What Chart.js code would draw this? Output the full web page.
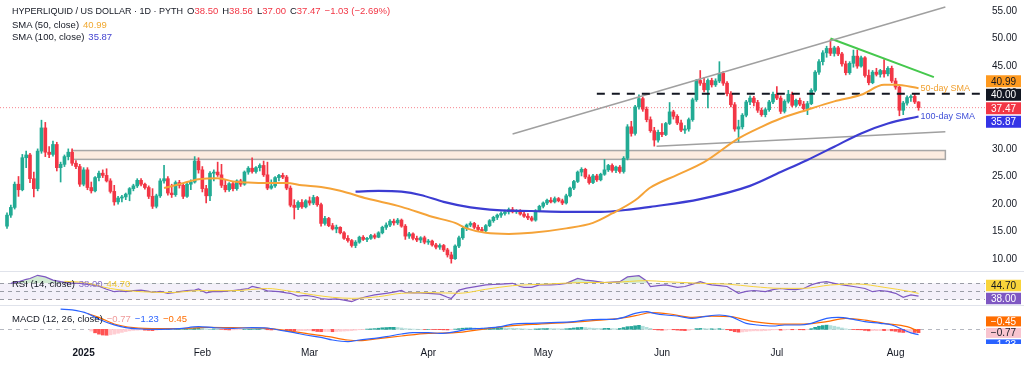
<!DOCTYPE html>
<html>
<head>
<meta charset="utf-8">
<title>HYPERLIQUID / US DOLLAR · 1D</title>
<script src="https://cdn.jsdelivr.net/npm/chart.js@4.4.1/dist/chart.umd.min.js"></script>
<style>
  html, body { margin: 0; padding: 0; background: #fff; }
  body { position: relative; width: 1024px; height: 366px; overflow: hidden;
         font-family: "Liberation Sans", Arial, sans-serif; color: #131722; }
  canvas { position: absolute; left: 0; }
  #main { top: 0; }
  #rsi { top: 272px; }
  #macd { top: 306px; }
  .sep { position: absolute; left: 0; width: 1024px; height: 1px; background: #e0e3eb; }
  .legend { position: absolute; left: 12px; font-size: 9.5px; line-height: 12px; white-space: nowrap; }
  .legend .v { margin-left: 4px; }
  .legend .ttl { font-size: 9px; margin-right: 4px; }
  .legend .g { margin-right: 4px; }
  .dn { color: #f23645; }
</style>
</head>
<body>
<canvas id="main" width="1024" height="271"></canvas>
<div class="sep" style="top:271px"></div>
<canvas id="rsi" width="1024" height="33"></canvas>
<div class="sep" style="top:305px"></div>
<canvas id="macd" width="1024" height="60"></canvas>

<div class="legend" id="lgTitle" style="top:5px"></div>
<div class="legend" id="lgSma50" style="top:19px"></div>
<div class="legend" id="lgSma100" style="top:31px"></div>
<div class="legend" id="lgRsi" style="top:278px"></div>
<div class="legend" id="lgMacd" style="top:313px"></div>

<script>
// ===== Data (daily candles from 2024-12-12) =====
const firstDay = '2024-12-12';

const opens = [
  16.0,18.0,19.4,23.6,22.6,28.4,28.9,24.6,22.8,29.6,
  33.8,29.4,29.0,30.8,26.6,27.2,28.6,29.4,27.4,26.8,
  23.6,26.2,23.0,22.4,24.8,25.6,25.2,24.2,22.3,20.4,
  21.1,21.3,21.8,22.8,23.3,24.3,23.6,23.0,21.4,19.6,
  21.5,24.2,24.6,22.0,21.7,23.9,23.4,21.4,23.6,24.0,
  27.8,26.2,22.8,21.5,25.6,25.8,25.3,23.4,22.6,23.7,
  22.8,24.2,23.6,25.8,26.5,25.9,26.6,27.0,25.3,22.9,
  23.3,24.8,25.2,24.9,22.9,19.8,19.4,20.3,19.5,20.6,
  20.2,21.2,19.9,16.5,17.4,16.1,15.5,15.8,14.8,13.8,
  13.4,12.5,13.1,14.0,13.6,13.8,14.3,14.0,14.8,15.8,
  16.2,16.9,16.6,17.1,16.0,14.2,14.6,13.8,13.5,13.9,
  13.1,13.3,12.6,12.2,12.5,11.7,10.8,10.1,12.4,13.9,
  15.6,16.2,16.5,15.8,15.4,15.2,16.1,17.0,17.6,18.0,
  18.3,18.6,19.0,18.6,18.8,18.2,17.8,17.5,17.1,18.8,
  19.6,20.2,20.7,20.4,21.0,20.6,20.2,21.5,22.9,24.1,
  25.8,26.3,24.9,23.9,25.1,24.4,25.4,26.2,27.0,26.1,
  26.7,25.9,28.3,34.0,32.8,37.6,39.1,37.2,35.3,33.3,
  31.6,33.0,32.6,34.6,36.7,35.9,34.7,33.4,33.6,35.3,
  38.9,42.4,41.9,40.7,42.4,41.6,42.3,43.7,41.9,40.0,
  38.0,33.6,34.0,36.1,38.5,39.2,38.4,37.0,36.2,37.1,
  38.5,39.9,39.2,36.8,38.6,39.9,37.9,38.8,38.1,37.3,
  38.2,40.6,43.9,45.8,47.4,48.2,47.3,48.3,47.2,45.4,
  43.8,45.5,46.8,45.0,46.5,43.3,42.0,43.9,43.5,44.2,
  43.6,44.6,42.3,41.2,37.0,38.3,39.3,39.5,38.50
];
const highs = [
  18.4,19.8,24.0,25.0,29.0,29.6,29.2,25.8,30.0,35.2,
  34.8,30.4,31.4,31.2,27.6,28.9,30.0,30.0,27.9,27.2,
  26.6,26.6,24.0,25.0,26.0,26.2,26.4,24.6,23.4,21.4,
  21.6,22.0,23.0,23.6,24.6,24.6,23.8,23.3,22.8,21.8,
  24.6,27.0,25.0,23.6,24.2,24.3,23.8,23.9,24.4,28.6,
  28.4,26.8,23.4,25.9,26.2,27.6,27.2,24.4,23.9,24.0,
  24.4,24.5,26.0,26.8,28.4,26.8,27.3,27.8,27.6,24.4,
  25.0,25.4,25.6,25.2,23.3,20.8,20.6,20.8,20.8,21.3,
  21.6,21.4,20.2,17.8,17.6,16.5,16.2,15.9,15.0,14.3,
  13.6,13.4,14.2,14.3,14.0,14.5,14.6,15.0,16.0,16.6,
  17.2,17.3,17.4,17.3,16.3,14.9,14.8,14.2,14.1,14.2,
  13.6,13.5,12.9,12.8,12.7,12.0,11.3,12.6,14.2,16.0,
  16.4,16.8,16.7,16.2,15.8,16.3,17.2,17.8,18.2,18.6,
  18.9,19.3,19.4,19.0,19.0,18.6,18.3,17.8,19.0,19.8,
  20.4,20.9,21.2,21.3,21.2,20.9,21.8,23.1,24.3,26.0,
  26.6,26.5,25.3,25.4,25.4,25.6,28.1,27.2,27.3,26.9,
  27.0,28.6,34.4,35.0,37.9,39.8,39.4,37.6,35.8,33.9,
  33.4,34.6,34.8,38.4,37.0,36.2,35.2,34.2,35.6,39.2,
  42.6,44.2,42.9,42.7,42.8,42.7,45.8,44.0,42.2,40.4,
  38.4,35.2,36.4,38.8,39.6,39.5,38.8,37.4,37.4,38.8,
  40.3,41.3,39.6,38.9,40.6,40.3,39.0,39.2,38.6,38.6,
  40.9,44.2,46.2,47.8,48.6,49.8,48.6,48.6,47.5,45.9,
  45.8,47.9,47.9,46.8,46.7,44.3,44.2,44.6,44.4,46.2,
  44.9,45.0,42.8,41.6,38.6,39.6,39.8,39.9,38.56
];
const lows = [
  15.6,17.6,19.1,21.4,22.4,26.6,23.9,21.3,22.4,29.2,
  28.6,28.4,28.7,26.0,24.0,26.8,28.0,27.0,26.4,23.2,
  23.3,22.6,22.0,22.2,24.2,24.8,24.0,22.0,19.8,20.0,
  20.4,20.8,20.6,22.4,23.0,23.3,22.7,21.0,19.2,19.3,
  21.2,23.8,21.6,21.2,21.4,22.9,21.0,21.2,22.6,23.8,
  25.6,22.2,20.2,20.6,24.2,25.0,23.0,22.2,22.3,22.4,
  22.5,23.2,23.4,25.4,25.6,25.6,26.0,25.0,22.6,22.7,
  23.0,24.2,24.6,22.6,19.5,17.3,19.0,19.2,19.3,19.8,
  19.9,19.6,16.0,16.2,15.9,15.3,14.8,14.6,13.6,13.1,
  12.2,12.1,12.9,13.4,13.2,13.6,13.7,13.9,14.6,15.4,
  15.9,16.2,16.3,15.8,13.6,13.8,13.5,13.2,13.0,12.8,
  12.7,12.4,11.9,11.8,11.4,10.4,9.3,10.0,12.1,13.6,
  15.2,15.9,15.5,15.2,14.9,15.0,15.9,16.7,17.2,17.6,
  18.0,18.2,18.4,18.3,18.0,17.6,17.2,16.9,16.9,18.6,
  19.3,19.9,20.2,20.2,20.4,19.9,20.0,21.3,22.6,23.9,
  25.1,24.6,23.6,23.7,24.1,24.2,25.2,25.9,25.8,25.7,
  25.6,25.6,28.0,32.3,32.5,37.2,36.8,34.9,33.0,30.5,
  31.2,32.2,32.4,34.4,35.4,34.4,33.1,32.8,33.2,35.0,
  38.6,41.5,40.3,37.4,41.2,41.3,42.0,41.5,39.6,37.6,
  33.2,31.2,33.6,35.8,38.0,37.8,36.6,35.9,35.8,36.8,
  38.2,38.9,36.4,36.5,38.3,37.6,37.6,37.8,37.0,36.2,
  38.0,40.3,43.5,45.2,46.6,46.9,46.8,46.9,45.0,43.4,
  43.5,44.8,44.6,44.8,43.0,41.6,41.8,43.2,43.0,43.0,
  43.2,42.0,40.8,36.0,36.2,37.9,38.6,38.2,37.00
];
const closes = [
  18.0,19.4,23.6,22.6,28.4,28.9,24.6,22.8,29.6,33.8,
  29.4,29.0,30.8,26.6,27.2,28.6,29.4,27.4,26.8,23.6,
  26.2,23.0,22.4,24.8,25.6,25.2,24.2,22.3,20.4,21.1,
  21.3,21.8,22.8,23.3,24.3,23.6,23.0,21.4,19.6,21.5,
  24.2,24.6,22.0,21.7,23.9,23.4,21.4,23.6,24.0,27.8,
  26.2,22.8,21.5,25.6,25.8,25.3,23.4,22.6,23.7,22.8,
  24.2,23.6,25.8,26.5,25.9,26.6,27.0,25.3,22.9,23.3,
  24.8,25.2,24.9,22.9,19.8,19.4,20.3,19.5,20.6,20.2,
  21.2,19.9,16.5,17.4,16.1,15.5,15.8,14.8,13.8,13.4,
  12.5,13.1,14.0,13.6,13.8,14.3,14.0,14.8,15.8,16.2,
  16.9,16.6,17.1,16.0,14.2,14.6,13.8,13.5,13.9,13.1,
  13.3,12.6,12.2,12.5,11.7,10.8,10.1,12.4,13.9,15.6,
  16.2,16.5,15.8,15.4,15.2,16.1,17.0,17.6,18.0,18.3,
  18.6,19.0,18.6,18.8,18.2,17.8,17.5,17.1,18.8,19.6,
  20.2,20.7,20.4,21.0,20.6,20.2,21.5,22.9,24.1,25.8,
  26.3,24.9,23.9,25.1,24.4,25.4,26.2,27.0,26.1,26.7,
  25.9,28.3,34.0,32.8,37.6,39.1,37.2,35.3,33.3,31.6,
  33.0,32.6,34.6,36.7,35.9,34.7,33.4,33.6,35.3,38.9,
  42.4,41.9,40.7,42.4,41.6,42.3,43.7,41.9,40.0,38.0,
  33.6,34.0,36.1,38.5,39.2,38.4,37.0,36.2,37.1,38.5,
  39.9,39.2,36.8,38.6,39.9,37.9,38.8,38.1,37.3,38.2,
  40.6,43.9,45.8,47.4,48.2,47.3,48.3,47.2,45.4,43.8,
  45.5,46.8,45.0,46.5,43.3,42.0,43.9,43.5,44.2,43.6,
  44.6,42.3,41.2,37.0,38.3,39.3,39.5,38.5,37.47
];

// moving averages (day index, value)
const sma50Idx = [41, 46, 50, 55, 59, 63, 68, 73, 77, 82, 87, 94, 103, 111, 117, 120, 125, 131,
  137, 146, 153, 158, 164, 168, 175, 182, 191, 197, 202, 209, 216, 223, 229, 232, 238];
const sma50Val = [22.9, 23.8, 24.5, 24.7, 24.1, 23.9, 23.8, 23.8, 23.4, 23.1, 22.4, 21.0, 19.5, 17.7,
  16.6, 15.6, 14.8, 14.6, 14.8, 15.6, 16.6, 18.3, 20.7, 23.0, 25.3, 27.6, 31.9, 34.0, 35.5, 37.1,
  38.6, 39.8, 41.6, 41.6, 40.99];
const sma100Idx = [91, 97, 103, 108, 114, 121, 128, 137, 146, 155, 163, 168, 181, 194, 202, 209,
  216, 223, 230, 238];
const sma100Val = [22.25, 22.4, 22.25, 21.65, 20.4, 19.4, 18.9, 18.75, 18.6, 18.6, 19.05, 19.5,
  20.9, 23.3, 25.8, 28.0, 30.4, 32.8, 34.6, 35.87];

// RSI (14) and its moving average
const rsiIdx = [1, 3, 5, 6, 8, 10, 12, 14, 16, 19, 22, 24, 26, 28, 30, 31, 33, 35, 37, 38, 40, 42,
  44, 45, 47, 49, 50, 52, 54, 56, 59, 61, 63, 64, 66, 68, 70, 71, 73, 74, 76, 78, 80, 82, 84, 86,
  88, 90, 92, 94, 96, 99, 101, 103, 104, 106, 108, 110, 113, 115, 116, 118, 120, 122, 125, 127,
  129, 132, 134, 135, 137, 139, 142, 144, 146, 149, 151, 153, 156, 158, 160, 162, 165, 167, 168,
  170, 172, 175, 177, 179, 181, 183, 184, 186, 188, 191, 193, 195, 198, 200, 202, 204, 206, 208,
  210, 212, 214, 216, 217, 219, 221, 224, 226, 228, 230, 232, 234, 236, 238];
const rsiVal = [70, 74, 80, 82, 90, 86, 78, 74, 71, 70, 66, 63, 55, 49, 51, 49, 52, 53, 50, 47, 50,
  45, 47, 49, 52, 53, 56, 46, 50, 49, 52, 54, 57, 62, 58, 51, 50, 49, 46, 45, 38, 40, 37, 32, 30,
  31, 28, 24, 32, 37, 41, 45, 48, 52, 47, 46, 46, 45, 43, 35, 32, 53, 58, 61, 66, 67, 68, 70, 62,
  60, 60, 66, 66, 67, 70, 82, 78, 76, 72, 73, 74, 86, 89, 76, 62, 64, 66, 60, 62, 68, 74, 68, 66,
  64, 62, 45, 50, 52, 49, 54, 57, 55, 54, 57, 66, 72, 74, 70, 68, 65, 62, 57, 49, 52, 50, 45, 35,
  41, 38.00];
const rsiMaIdx = [15, 20, 27, 35, 43, 50, 59, 68, 73, 80, 85, 90, 97, 103, 111, 118, 125, 132, 141,
  149, 158, 167, 172, 181, 188, 195, 202, 208, 215, 222, 229, 236, 238];
const rsiMaVal = [75, 72, 57, 49, 47, 51.6, 51.6, 57, 51.6, 41, 35, 32.4, 36.6, 45, 46.6, 45, 55, 64,
  68, 71.6, 72.4, 76.6, 74, 70, 68, 61.6, 57.4, 57.4, 65.8, 68.2, 60, 49, 44.70];
const rsiLevels = [30, 50, 70];

// MACD (12, 26)
const macdIdx = [14, 17, 21, 24, 28, 31, 35, 40, 45, 50, 54, 59, 64, 68, 71, 75, 78, 82, 85, 89, 92,
  96, 99, 103, 106, 110, 113, 117, 120, 124, 129, 132, 137, 142, 148, 151, 155, 158, 161, 164, 167,
  169, 172, 175, 179, 182, 186, 189, 193, 196, 200, 203, 207, 210, 214, 217, 221, 224, 228, 231,
  234, 236, 238];
const macdVal = [4.6, 4.4, 3.6, 2.3, 1.0, 0.4, 0.07, 0.0, 0.14, 0.6, 0.37, 0.22, 0.37, 0.3, -0.16,
  -0.77, -1.3, -1.83, -2.43, -2.81, -2.43, -2.05, -1.67, -1.07, -0.77, -0.77, -0.92, -0.54, 0.0,
  0.22, 0.6, 1.2, 1.36, 1.51, 1.73, 2.11, 2.27, 2.27, 2.72, 3.63, 4.01, 3.63, 3.25, 3.02, 2.49,
  2.87, 3.25, 2.87, 1.36, 0.98, 0.75, 0.98, 0.98, 1.36, 2.49, 2.72, 2.27, 1.73, 1.36, 0.98, -0.1,
  -0.8, -1.23];
const signalIdx = [21, 24, 28, 33, 40, 47, 52, 59, 68, 73, 78, 84, 89, 92, 97, 103, 110, 117, 124,
  132, 139, 146, 153, 160, 165, 168, 173, 179, 184, 189, 195, 202, 208, 214, 219, 224, 229, 235, 238];
const signalVal = [3.6, 2.72, 1.2, 0.37, 0.14, 0.22, 0.45, 0.37, 0.22, -0.31, -0.92, -1.67, -2.43,
  -2.58, -2.13, -1.52, -0.92, -0.77, 0.0, 0.83, 1.2, 1.51, 1.96, 2.49, 3.25, 3.78, 3.48, 2.72, 3.02,
  2.87, 1.73, 1.2, 1.2, 1.73, 2.49, 2.11, 1.36, 0.6, -0.45];
const histVal = [
  null,null,null,null,null,null,null,null,null,null,
  null,null,null,null,null,null,null,null,null,null,
  null,null,-0.4,-0.8,-1.1,-1.3,-1.35,-1.25,-1.1,-0.9,
  -0.7,-0.5,-0.35,-0.25,-0.2,-0.15,-0.2,-0.25,-0.3,-0.2,
  -0.1,-0.05,0.05,0.0,0.05,0.08,0.1,0.12,0.15,0.25,
  0.3,0.25,0.1,0.05,0.08,0.06,-0.02,-0.1,-0.15,-0.12,
  -0.1,-0.08,0.02,0.05,0.08,0.1,0.1,0.05,-0.1,-0.15,
  -0.12,-0.1,-0.1,-0.2,-0.35,-0.4,-0.35,-0.3,-0.3,-0.25,
  -0.35,-0.5,-0.55,-0.5,-0.5,-0.55,-0.5,-0.45,-0.4,-0.35,
  -0.3,-0.2,-0.1,-0.05,0.05,0.1,0.15,0.25,0.35,0.4,
  0.45,0.45,0.4,0.3,0.15,0.1,0.05,0.02,0.0,-0.02,
  0.0,-0.02,-0.05,-0.08,-0.12,-0.15,-0.12,0.05,0.15,0.25,
  0.3,0.32,0.3,0.25,0.22,0.25,0.3,0.32,0.35,0.35,
  0.33,0.3,0.25,0.2,0.15,0.1,0.05,0.02,0.08,0.12,
  0.15,0.18,0.16,0.15,0.12,0.1,0.12,0.2,0.3,0.4,
  0.45,0.4,0.3,0.25,0.2,0.18,0.2,0.22,0.15,0.12,
  0.2,0.4,0.6,0.65,0.8,0.9,0.7,0.45,0.2,-0.05,
  -0.15,-0.2,-0.18,-0.05,-0.1,-0.18,-0.25,-0.3,-0.25,-0.05,
  0.15,0.2,0.18,0.1,0.12,0.1,0.15,0.05,-0.1,-0.3,
  -0.55,-0.65,-0.6,-0.5,-0.4,-0.35,-0.35,-0.35,-0.3,-0.22,
  -0.12,-0.1,-0.2,-0.15,-0.08,-0.1,-0.08,-0.1,-0.12,-0.05,
  0.15,0.45,0.7,0.85,0.95,0.85,0.7,0.5,0.3,0.1,
  0.0,-0.05,-0.1,-0.12,-0.25,-0.35,-0.3,-0.3,-0.28,-0.3,
  -0.28,-0.35,-0.45,-0.65,-0.72,-0.7,-0.68,-0.72,-0.77
];

// drawings on the price pane (day index, price)
const upperTrendX = [132, 245], upperTrendY = [32.7, 55.7];
const lowerTrendX = [169.6, 245], lowerTrendY = [30.5, 33.1];
const fallTrendX = [215, 242], fallTrendY = [50.0, 43.0];
const zoneX = [17, 245], zoneY = [28.1, 29.7];
const levelFrom = 154, level = 40;

// axis labels
const priceTicks = [10, 15, 20, 25, 30, 35, 40, 45, 50, 55];
const monthDays = ['2025-01-01', '2025-02-01', '2025-03-01', '2025-04-01',
  '2025-05-01', '2025-06-01', '2025-07-01', '2025-08-01'];
const monthLabels = ['2025', 'Feb', 'Mar', 'Apr', 'May', 'Jun', 'Jul', 'Aug'];

// ===== Setup =====
const FONT = '"Liberation Sans", Arial, sans-serif';
Chart.defaults.font.family = FONT;
Chart.defaults.font.size = 10;
Chart.defaults.color = '#131722';
Chart.defaults.animation = false;
Chart.defaults.events = [];

const UP = '#22ab94', DOWN = '#f23645';
const SMA50_C = '#f5a338', SMA100_C = '#3c3cd2';
const X_MIN = -1.83, X_MAX = 255.35;
const AXIS_W = 39;

const pts = (xs, ys) => xs.map((x, k) => ({ x, y: ys[k] }));
const days = closes.map((_, i) => i);
const last = closes.length - 1;
const fmt = v => (v < 0 ? '\u2212' : '') + Math.abs(v).toFixed(2);
const dayIndex = d => Math.round((Date.parse(d) - Date.parse(firstDay)) / 86400000);
const monthIdx = monthDays.map(dayIndex);

const hiddenX = { type: 'linear', min: X_MIN, max: X_MAX, offset: false, display: false };
const rightY = (min, max, extra = {}) => Object.assign({
  position: 'right', min, max,
  grid: { display: false, drawTicks: false }, border: { display: false },
  ticks: { display: false },
  afterFit: s => { s.width = AXIS_W; s.paddingTop = 0; s.paddingBottom = 0; },
}, extra);

const lineDs = (data, color, width, extra = {}) => Object.assign({
  type: 'line', data, borderColor: color, borderWidth: width,
  pointRadius: 0, fill: false, tension: 0, order: 1,
}, extra);

// value tags on the price scale; overlapping tags get stacked around their mean
function scaleTags(id, tags, h, keepInside) {
  return {
    id,
    afterDraw(chart) {
      const { ctx, chartArea: a, scales: { y } } = chart;
      const items = tags.map(t => ({ ...t, py: y.getPixelForValue(t.value) }))
        .sort((p, q) => p.py - q.py);
      const mean = g => g.reduce((s, t) => s + t.py, 0) / g.length;
      let groups = items.map(t => [t]);
      let merged = true;
      while (merged) {
        merged = false;
        for (let k = 0; k < groups.length - 1; k++) {
          const g1 = groups[k], g2 = groups[k + 1];
          if (mean(g1) + g1.length * h / 2 > mean(g2) - g2.length * h / 2) {
            groups.splice(k, 2, g1.concat(g2));
            merged = true;
            break;
          }
        }
      }
      ctx.save();
      ctx.beginPath();
      ctx.rect(a.right, a.top, chart.width - a.right, a.bottom - a.top);
      ctx.clip();
      ctx.font = '10px ' + FONT;
      ctx.textAlign = 'center';
      ctx.textBaseline = 'middle';
      groups.forEach(g => {
        let top = mean(g) - g.length * h / 2;
        if (keepInside) top = Math.max(a.top, Math.min(top, a.bottom - g.length * h));
        g.forEach((t, j) => {
          const cy = top + h * (j + 0.5);
          ctx.fillStyle = t.bg;
          ctx.fillRect(a.right + 1, cy - h / 2 + 0.75, 35, h - 1.5);
          ctx.fillStyle = t.fg;
          ctx.fillText(fmt(t.value), a.right + 18.5, cy + 0.5);
        });
      });
      ctx.restore();
    },
  };
}

function dashedLevels(id, levels, color, dash) {
  return {
    id,
    beforeDatasetsDraw(chart) {
      const { ctx, chartArea: a, scales: { y } } = chart;
      ctx.save();
      ctx.strokeStyle = color;
      ctx.lineWidth = 1;
      ctx.setLineDash(dash);
      levels.forEach(v => {
        const py = Math.round(y.getPixelForValue(v)) + 0.5;
        ctx.beginPath();
        ctx.moveTo(a.left, py);
        ctx.lineTo(a.right, py);
        ctx.stroke();
      });
      ctx.restore();
    },
  };
}

// ===== Price pane =====
(() => {
  const candleColor = days.map(i => closes[i] >= opens[i] ? UP : DOWN);

  const zoneBox = {
    id: 'zoneBox',
    beforeDatasetsDraw(chart) {
      const { ctx, scales: { x, y } } = chart;
      const l = x.getPixelForValue(zoneX[0]), r = x.getPixelForValue(zoneX[1]);
      const t = y.getPixelForValue(zoneY[1]), b = y.getPixelForValue(zoneY[0]);
      ctx.save();
      ctx.fillStyle = '#fcece0';
      ctx.fillRect(l, t, r - l, b - t);
      ctx.strokeStyle = '#a7a7a7';
      ctx.lineWidth = 1.5;
      ctx.strokeRect(l, t, r - l, b - t);
      ctx.restore();
    },
  };

  const smaNames = {
    id: 'smaNames',
    afterDatasetsDraw(chart) {
      const { ctx } = chart;
      ctx.save();
      ctx.font = '9px ' + FONT;
      ctx.textBaseline = 'middle';
      [['sma50', '50-day SMA', '#f0a030'], ['sma100', '100-day SMA', '#4050d8']].forEach(([lbl, text, color]) => {
        const idx = chart.data.datasets.findIndex(d => d.label === lbl);
        const el = chart.getDatasetMeta(idx).data;
        const p = el[el.length - 1];
        ctx.fillStyle = color;
        ctx.fillText(text, p.x + 2, p.y);
      });
      ctx.restore();
    },
  };

  new Chart(document.getElementById('main'), {
    type: 'bar',
    data: {
      datasets: [
        {
          label: 'wicks', type: 'bar', order: 5, grouped: false,
          data: days.map(i => ({ x: i, y: [lows[i], highs[i]] })),
          backgroundColor: candleColor, barThickness: 1,
        },
        {
          label: 'bodies', type: 'bar', order: 4, grouped: false,
          data: days.map(i => ({ x: i, y: [opens[i], closes[i]] })),
          backgroundColor: candleColor, barThickness: 3,
        },
        lineDs(pts(sma50Idx, sma50Val), SMA50_C, 2, { label: 'sma50', cubicInterpolationMode: 'monotone' }),
        lineDs(pts(sma100Idx, sma100Val), SMA100_C, 2.2, { label: 'sma100', cubicInterpolationMode: 'monotone' }),
        lineDs(pts(upperTrendX, upperTrendY), '#a0a0a0', 1.5, { order: 3 }),
        lineDs(pts(lowerTrendX, lowerTrendY), '#a0a0a0', 1.5, { order: 3 }),
        lineDs(pts(fallTrendX, fallTrendY), '#45c84d', 2, { order: 3 }),
        lineDs([{ x: levelFrom, y: level }, { x: X_MAX, y: level }], '#131722', 2,
          { order: 2, borderDash: [8, 7] }),
        lineDs([{ x: X_MIN, y: closes[last] }, { x: X_MAX, y: closes[last] }], 'rgba(242,54,69,0.6)', 1,
          { order: 6, borderDash: [1, 2] }),
      ],
    },
    options: {
      responsive: false,
      layout: { padding: 0 },
      scales: {
        x: hiddenX,
        y: rightY(7.88, 56.97, {
          afterBuildTicks: s => { s.ticks = priceTicks.map(value => ({ value })); },
          ticks: { display: true, padding: 7, color: '#131722', font: { size: 10 },
            callback: v => v.toFixed(2) },
        }),
      },
      plugins: { legend: { display: false }, tooltip: { enabled: false } },
    },
    plugins: [zoneBox, smaNames, scaleTags('priceTags', [
      { value: sma50Val[sma50Val.length - 1], bg: '#ff9a1f', fg: '#131722' },
      { value: level, bg: '#131722', fg: '#ffffff' },
      { value: closes[last], bg: '#f23645', fg: '#ffffff' },
      { value: sma100Val[sma100Val.length - 1], bg: '#3434e6', fg: '#ffffff' },
    ], 13.5, true)],
  });
})();

// ===== RSI pane =====
(() => {
  const rsiData = pts(rsiIdx, rsiVal);
  const band = {
    id: 'rsiBand',
    beforeDatasetsDraw(chart) {
      const { ctx, chartArea: a, scales: { y } } = chart;
      const t = y.getPixelForValue(rsiLevels[2]), b = y.getPixelForValue(rsiLevels[0]);
      ctx.save();
      ctx.fillStyle = 'rgba(126, 87, 194, 0.09)';
      ctx.fillRect(a.left, t, a.right - a.left, b - t);
      ctx.restore();
    },
  };
  new Chart(document.getElementById('rsi'), {
    type: 'line',
    data: {
      datasets: [
        lineDs(rsiData, 'rgba(0,0,0,0)', 0, { order: 3,
          fill: { target: { value: 30 }, above: 'rgba(0,0,0,0)', below: 'rgba(242,54,69,0.2)' } }),
        lineDs(rsiData, '#7e57c2', 1.2, { order: 2,
          fill: { target: { value: 70 }, above: 'rgba(76,175,80,0.25)', below: 'rgba(0,0,0,0)' } }),
        lineDs(pts(rsiMaIdx, rsiMaVal), '#f7d33a', 1, { cubicInterpolationMode: 'monotone' }),
      ],
    },
    options: {
      responsive: false,
      layout: { padding: 0 },
      scales: { x: hiddenX, y: rightY(15.75, 98.25) },
      plugins: { legend: { display: false }, tooltip: { enabled: false } },
    },
    plugins: [band, dashedLevels('rsiLevels', rsiLevels, '#9a9da6', [4, 4]),
      scaleTags('rsiTags', [
        { value: rsiMaVal[rsiMaVal.length - 1], bg: '#f9d43a', fg: '#131722' },
        { value: rsiVal[rsiVal.length - 1], bg: '#7e57c2', fg: '#ffffff' },
      ], 13, true)],
  });
})();

// ===== MACD pane =====
(() => {
  const histColor = histVal.map((v, i) => {
    const prev = i > 0 && histVal[i - 1] !== null ? histVal[i - 1] : v;
    if (v >= 0) return v >= prev ? '#26a69a' : '#b2dfdb';
    return v < prev ? '#ff5252' : '#ffcdd2';
  });
  const histData = days.filter(i => histVal[i] !== null).map(i => ({ x: i, y: histVal[i] }));
  const histColors = days.filter(i => histVal[i] !== null).map(i => histColor[i]);

  new Chart(document.getElementById('macd'), {
    type: 'bar',
    data: {
      datasets: [
        { label: 'hist', type: 'bar', order: 3, grouped: false, data: histData,
          backgroundColor: histColors, barThickness: 3 },
        lineDs(pts(macdIdx, macdVal), '#2962ff', 1.2, { cubicInterpolationMode: 'monotone' }),
        lineDs(pts(signalIdx, signalVal), '#ff6d00', 1.2, { cubicInterpolationMode: 'monotone' }),
      ],
    },
    options: {
      responsive: false,
      layout: { padding: 0 },
      scales: {
        x: {
          type: 'linear', min: X_MIN, max: X_MAX, offset: false,
          grid: { display: false, drawTicks: false }, border: { display: false },
          afterBuildTicks: s => { s.ticks = monthIdx.map(value => ({ value })); },
          afterFit: s => { s.height = 22; s.paddingLeft = 0; s.paddingRight = 0; },
          ticks: {
            autoSkip: false, maxRotation: 0, padding: 3, color: '#131722',
            callback: (v, k) => monthLabels[k],
            font: c => ({ size: 10, weight: c.index === 0 ? 'bold' : 'normal' }),
          },
        },
        y: rightY(-3.34, 5.3),
      },
      plugins: { legend: { display: false }, tooltip: { enabled: false } },
    },
    plugins: [dashedLevels('zero', [0], '#b5b8c0', [4, 4]),
      scaleTags('macdTags', [
        { value: signalVal[signalVal.length - 1], bg: '#ff6d00', fg: '#ffffff' },
        { value: histVal[last], bg: '#f8c4cf', fg: '#131722' },
        { value: macdVal[macdVal.length - 1], bg: '#2962ff', fg: '#ffffff' },
      ], 11.5, false)],
  });
})();

// ===== Legends =====
(() => {
  const v = (text, color) => `<span class="v" style="color:${color}">${text}</span>`;
  const g = (k, val) => `<span class="g">${k}<span class="dn">${val}</span></span>`;
  document.getElementById('lgTitle').innerHTML =
    '<span class="ttl">HYPERLIQUID / US DOLLAR · 1D · PYTH</span>' +
    g('O', opens[last].toFixed(2)) + g('H', highs[last].toFixed(2)) +
    g('L', lows[last].toFixed(2)) + g('C', closes[last].toFixed(2)) +
    '<span class="dn">\u22121.03 (\u22122.69%)</span>';
  document.getElementById('lgSma50').innerHTML =
    'SMA (50, close)' + v(sma50Val[sma50Val.length - 1].toFixed(2), '#f0a830');
  document.getElementById('lgSma100').innerHTML =
    'SMA (100, close)' + v(sma100Val[sma100Val.length - 1].toFixed(2), '#4444d0');
  document.getElementById('lgRsi').innerHTML =
    'RSI (14, close)' + v(rsiVal[rsiVal.length - 1].toFixed(2), '#8a6fc8') +
    v(rsiMaVal[rsiMaVal.length - 1].toFixed(2), '#f2cc3a');
  document.getElementById('lgMacd').innerHTML =
    'MACD (12, 26, close)' + v(fmt(histVal[last]), '#ef9a9a') +
    v(fmt(macdVal[macdVal.length - 1]), '#2962ff') + v(fmt(signalVal[signalVal.length - 1]), '#ff6d00');
})();
</script>
</body>
</html>
